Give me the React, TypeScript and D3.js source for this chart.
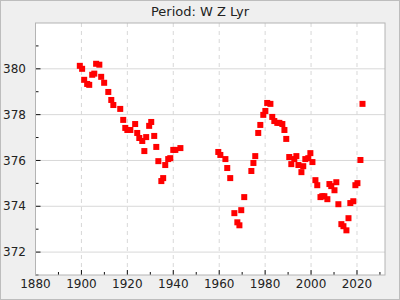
import React from "react";
import * as d3 from "d3";

const years: number[] = [
  1899.3, 1900.3, 1901.2, 1902.5, 1903.4, 1904.7, 1905.6, 1906.4, 1907.8, 1908.6,
  1909.9, 1911.7, 1913.0, 1913.9, 1916.9, 1918.2, 1919.1, 1920.0, 1921.3, 1923.4,
  1924.3, 1925.2, 1926.5, 1928.2, 1927.4, 1929.5, 1930.4, 1931.7, 1932.6, 1933.5,
  1934.8, 1935.6, 1936.5, 1937.8, 1938.7, 1940.0, 1940.9, 1943.1,
  1959.6, 1960.5, 1962.7, 1963.5, 1964.8, 1966.6, 1967.9, 1968.8, 1969.6, 1970.9,
  1974.0, 1974.9, 1975.7, 1977.0, 1977.9, 1979.2, 1980.1, 1980.9, 1982.3, 1983.1,
  1984.0, 1985.3, 1986.2, 1987.5, 1988.4, 1989.2, 1990.5, 1991.4, 1992.7, 1993.6,
  1994.5, 1995.8, 1996.6, 1997.5, 1998.8, 1999.7, 2000.6, 2001.9, 2002.7, 2004.1,
  2004.9, 2005.8, 2007.1, 2008.0, 2008.8, 2010.2, 2011.0, 2011.9, 2013.2, 2014.1,
  2015.4, 2016.3, 2017.1, 2018.4, 2019.3, 2020.2, 2021.5, 2022.4,
];

const periods: number[] = [
  380.13, 380.0, 379.52, 379.34, 379.3, 379.74, 379.79, 380.22, 380.18, 379.65,
  379.39, 378.99, 378.64, 378.42, 378.25, 377.77, 377.42, 377.33, 377.33, 377.59,
  377.2, 376.98, 376.85, 377.02, 376.41, 377.51, 377.68, 377.07, 376.59, 375.97,
  375.1, 375.23, 375.8, 376.06, 376.1, 376.46, 376.46, 376.54,
  376.37, 376.24, 376.06, 375.67, 375.23, 373.7, 373.3, 373.17, 373.83, 374.4,
  375.54, 375.89, 376.19, 377.2, 377.55, 377.99, 378.16, 378.51, 378.47, 377.9,
  377.72, 377.64, 377.64, 377.59, 377.33, 376.94, 376.15, 375.84, 376.06, 376.19,
  375.8, 375.49, 375.75, 376.06, 376.1, 376.32, 375.93, 375.14, 374.92, 374.4,
  374.44, 374.44, 374.31, 374.97, 374.88, 374.7, 375.05, 374.09, 373.22, 373.13,
  372.95, 373.48, 374.14, 374.22, 374.92, 375.01, 376.02, 378.47,
];

const xMajorTicks: number[] = [1880, 1900, 1920, 1940, 1960, 1980, 2000, 2020];
const xMinorTicks: number[] = [1890, 1910, 1930, 1950, 1970, 1990, 2010, 2030];
const yMajorTicks: number[] = [372, 374, 376, 378, 380];
const yMinorTicks: number[] = [371, 373, 375, 377, 379, 381];
const title = "Period: W Z Lyr";

export default function App() {
  const W = 400, H = 300;
  const L = 35.5, R = 385, T = 23, B = 275;
  const x = d3.scaleLinear().domain([1880, 2032.2]).range([L, R]);
  const y = d3.scaleLinear().domain([371, 382]).range([B, T]);
  const font = "DejaVu Sans, sans-serif";
  const ms = 6;
  return (
    <svg width={W} height={H} style={{ position: "absolute", left: 0, top: 0 }}>
      <rect x={0.5} y={0.5} width={W - 1} height={H - 1} fill="#efefef" stroke="#bdbdbd" />
      <text x={W / 2} y={16} textAnchor="middle" fontFamily={font} fontSize={13} fill="#222">
        {title}
      </text>
      <rect x={L} y={T} width={R - L} height={B - T} fill="#fff" />
      {yMajorTicks.map((v) => (
        <line key={"gy" + v} x1={L} x2={R} y1={y(v)} y2={y(v)} stroke="#d8d8d8" strokeWidth={1} />
      ))}
      {xMajorTicks.slice(1).map((v) => (
        <line key={"gx" + v} x1={x(v)} x2={x(v)} y1={T} y2={B} stroke="#d8d8d8" strokeWidth={1} strokeDasharray="4,4" />
      ))}
      {yMajorTicks.map((v) => (
        <line key={"ty" + v} x1={L} x2={L + 5} y1={y(v)} y2={y(v)} stroke="#111" />
      ))}
      {yMinorTicks.map((v) => (
        <line key={"tym" + v} x1={L} x2={L + 3} y1={y(v)} y2={y(v)} stroke="#111" />
      ))}
      {xMajorTicks.map((v) => (
        <line key={"tx" + v} x1={x(v)} x2={x(v)} y1={B} y2={B - 5} stroke="#111" />
      ))}
      {xMinorTicks.map((v) => (
        <line key={"txm" + v} x1={x(v)} x2={x(v)} y1={B} y2={B - 3} stroke="#111" />
      ))}
      <rect x={L} y={T} width={R - L} height={B - T} fill="none" stroke="#b4b4b4" />
      {yMajorTicks.map((v) => (
        <text key={"ly" + v} x={L - 9.5} y={y(v)} dy="0.35em" textAnchor="end" fontFamily={font} fontSize={12} fill="#222">
          {v}
        </text>
      ))}
      {xMajorTicks.map((v) => (
        <text key={"lx" + v} x={x(v)} y={B + 8.5} dy="0.35em" textAnchor="middle" fontFamily={font} fontSize={12} fill="#222">
          {v}
        </text>
      ))}
      {years.map((yr, i) => (
        <rect key={"p" + i} x={x(yr) - ms / 2} y={y(periods[i]) - ms / 2} width={ms} height={ms} fill="#ff0000" />
      ))}
    </svg>
  );
}
